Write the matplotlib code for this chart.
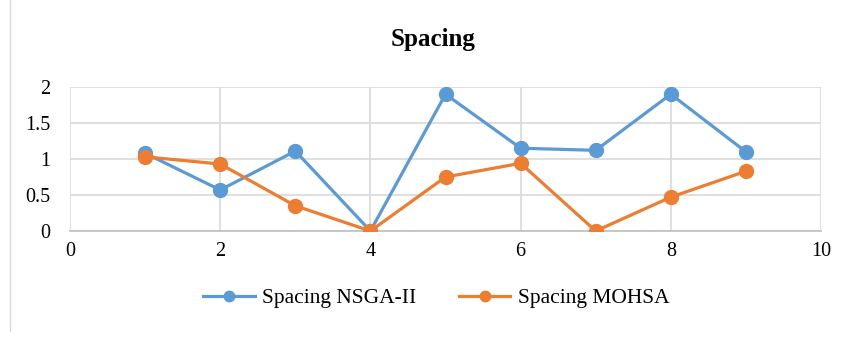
import matplotlib
matplotlib.use('Agg')
import matplotlib.pyplot as plt
from matplotlib.lines import Line2D

plt.rcParams['font.family'] = ['Liberation Serif', 'DejaVu Serif']

runs = [1, 2, 3, 4, 5, 6, 7, 8, 9]
spacing_nsga = [1.08, 0.57, 1.11, 0.0, 1.90, 1.15, 1.12, 1.90, 1.10]
spacing_mohsa = [1.03, 0.93, 0.35, 0.0, 0.75, 0.94, 0.0, 0.47, 0.83]
x_ticks = [0, 2, 4, 6, 8, 10]
y_ticks = [0, 0.5, 1, 1.5, 2]
y_labels = ['0', '0.5', '1', '1.5', '2']

blue = '#5B9BD5'
orange = '#ED7D31'

fig = plt.figure(figsize=(8.49, 3.38), dpi=100)
ax = fig.add_axes([0.0825, 0.3166, 0.8845, 0.426])

ax.plot(runs, spacing_nsga, color=blue, lw=2.3, marker='o', ms=10,
        label='Spacing NSGA-II', zorder=3)
ax.plot(runs, spacing_mohsa, color=orange, lw=2.3, marker='o', ms=10,
        label='Spacing MOHSA', zorder=4)

ax.set_xlim(0, 10)
ax.set_ylim(0, 2)
ax.set_xticks(x_ticks)
ax.set_yticks(y_ticks)
ax.set_yticklabels(y_labels)
ax.grid(True, color='#D9D9D9', lw=1.2)
ax.set_axisbelow(True)
for s in ['top', 'right', 'left']:
    ax.spines[s].set_visible(False)
ax.spines['bottom'].set_color('#BFBFBF')
ax.spines['bottom'].set_linewidth(1.2)
ax.tick_params(length=0, labelsize=14.5, pad=8)
ax.tick_params(axis='y', pad=14)

fig.text(0.51, 0.882, 'Spacing', ha='center', va='center',
         fontsize=18, fontweight='bold')

leg = fig.legend(loc='center', bbox_to_anchor=(0.514, 0.118), ncol=2,
                 frameon=False, fontsize=15.5, handlelength=2.4,
                 columnspacing=1.95, handletextpad=0.35, markerscale=0.75)

fig.add_artist(Line2D([0.012, 0.012], [0.02, 1.0], color='#D9D9D9', lw=1,
                      transform=fig.transFigure))

fig.savefig('out.png', dpi=100, facecolor='white')
